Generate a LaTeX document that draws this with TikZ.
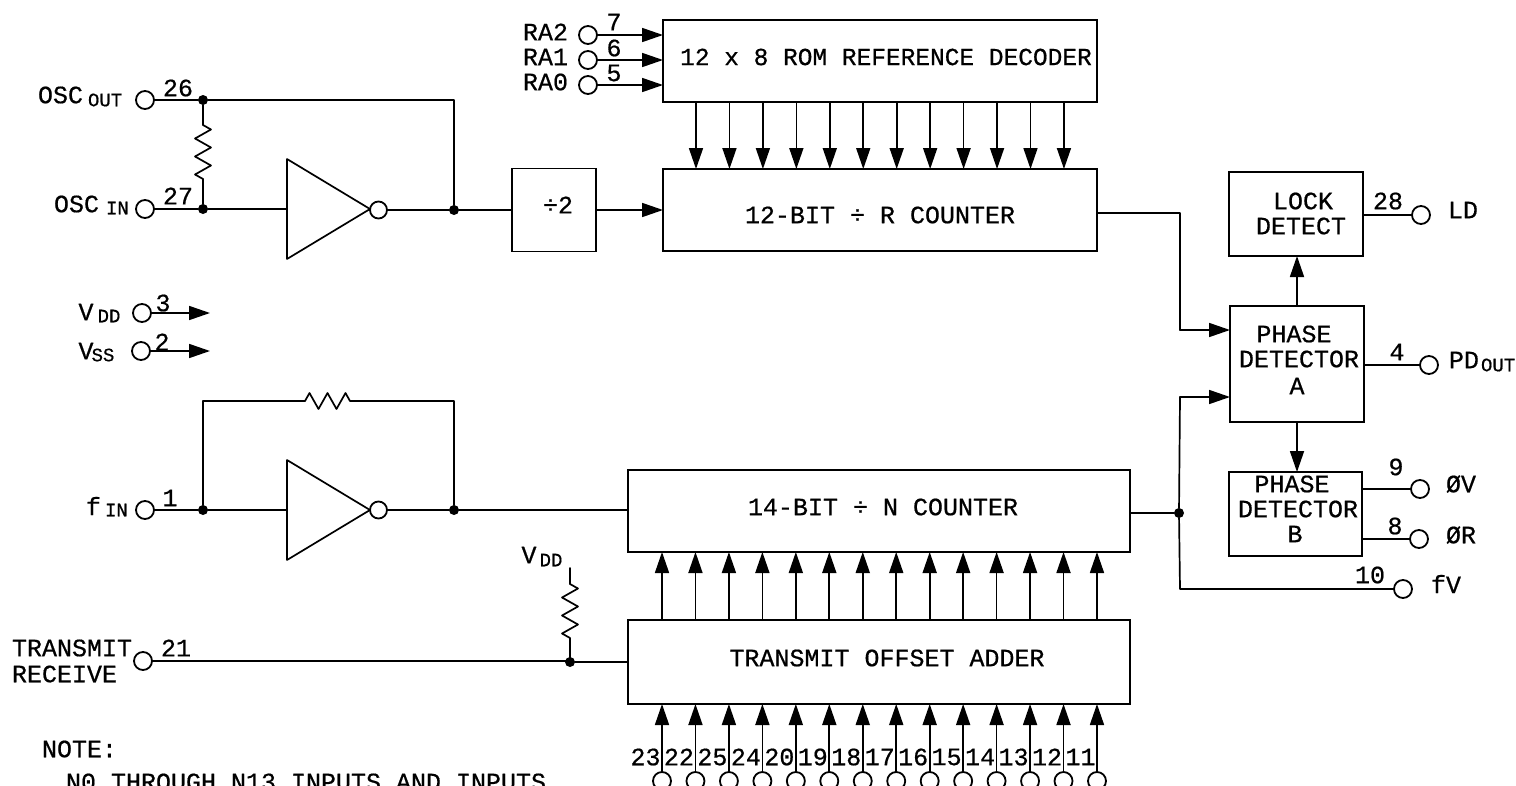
\documentclass[tikz,border=0pt]{standalone}
\usepackage{fontspec}
\setmainfont{Liberation Mono}[FakeBold=0.6]
\usetikzlibrary{arrows.meta,decorations.pathmorphing}
\tikzset{
  wire/.style={line width=1.7pt,line cap=round,line join=round},
  arr/.style={wire,-{Triangle[length=21pt,width=14pt]}},
  blk/.style={draw,line width=1.9pt,inner sep=0pt,outer sep=0pt},
  pin/.style={circle,draw,line width=1.8pt,minimum size=18pt,inner sep=0pt,outer sep=0pt},
  bub/.style={circle,draw,line width=1.8pt,minimum size=17pt,inner sep=0pt,outer sep=0pt},
  dotj/.style={circle,fill,minimum size=10pt,inner sep=0pt,outer sep=0pt},
  lab/.style={inner sep=0pt,outer sep=0pt,font=\fontsize{25}{26}\selectfont},
  sml/.style={inner sep=0pt,outer sep=0pt,font=\fontsize{19}{20}\selectfont},
  res/.style={wire,decorate,decoration={zigzag,segment length=18pt,amplitude=8pt}}
}
\begin{document}
\begin{tikzpicture}[x=1pt,y=-1pt]
\useasboundingbox (0,0) rectangle (1516,785);
\clip (0,0) rectangle (1516,785);
% blocks
\node[blk,minimum width=434pt,minimum height=82pt] (rom) at (880,61) {};
\node[lab,font=\fontsize{24.5}{26}\selectfont] (romt) at (886,57) {12 x 8 ROM REFERENCE DECODER};
\node[blk,minimum width=434pt,minimum height=82pt] (rcnt) at (880,210) {};
\node[lab] (rcntt) at (880,215) {12-BIT ÷ R COUNTER};
\node[blk,minimum width=84pt,minimum height=83pt] (div) at (554,210) {};
\node[lab] (divt) at (558,205) {÷2};
\node[blk,minimum width=502pt,minimum height=82pt] (ncnt) at (879,511) {};
\node[lab] (ncntt) at (883,507) {14-BIT ÷ N COUNTER};
\node[blk,minimum width=502pt,minimum height=84pt] (add) at (879,662) {};
\node[lab] (addt) at (887,658) {TRANSMIT OFFSET ADDER};
\node[blk,minimum width=134pt,minimum height=84pt] (lock) at (1296,214) {};
\node[lab] (lockt1) at (1303,201) {LOCK};
\node[lab] (lockt2) at (1301,226) {DETECT};
\node[blk,minimum width=134pt,minimum height=116pt] (pda) at (1297,364) {};
\node[lab] (pdat1) at (1294,334) {PHASE};
\node[lab] (pdat2) at (1299,359) {DETECTOR};
\node[lab] (pdat3) at (1297,386) {A};
\node[blk,minimum width=133pt,minimum height=84pt] (pdb) at (1295.5,514) {};
\node[lab] (pdbt1) at (1292,484) {PHASE};
\node[lab] (pdbt2) at (1298,509) {DETECTOR};
\node[lab] (pdbt3) at (1295,534) {B};
% oscillator section
\node[pin] (oscout) at (145,100) {};
\node[pin] (oscin) at (145,209) {};
\node[dotj] (j26) at (203,100) {};
\node[dotj] (j27) at (203,209) {};
\node[dotj] (j1o) at (454,210) {};
\coordinate (c1) at (454,100);
\coordinate (r1a) at (203,125);
\coordinate (r1b) at (203,179);
\coordinate (ia) at (287,209);
\coordinate (ib) at (370,209);
\node[bub] (bub1) at (378.5,210) {};
\draw[wire] (287,159) -- (287,259) -- (ib) -- cycle;
\draw[wire] (oscout) -- (j26) -- (c1) -- (j1o);
\draw[wire] (j26) -- (r1a);
\draw[res] (r1a) -- (r1b);
\draw[wire] (r1b) -- (j27);
\draw[wire] (oscin) -- (j27) -- (ia);
\draw[wire] (bub1) -- (j1o) -- (div.west |- j1o);
\draw[arr] (div.east) -- (rcnt.west);
\node[lab] (n26) at (178,88) {26};
\node[lab] (n27) at (178,196) {27};
\node[lab,anchor=east] (tosc1) at (83,95) {OSC};
\node[sml,anchor=west] (tosc2) at (88,100) {OUT};
\node[lab,anchor=east] (tosc3) at (99,204) {OSC};
\node[sml,anchor=west] (tosc4) at (106,208) {IN};
% RA pins
\node[pin] (ra2) at (588,35) {};
\node[pin] (ra1) at (588,60) {};
\node[pin] (ra0) at (588,85) {};
\foreach \p in {ra2,ra1,ra0} \draw[arr] (\p) -- (\p -| rom.west);
\node[lab,anchor=east] (tra2) at (568,32) {RA2};
\node[lab,anchor=east] (tra1) at (568,57) {RA1};
\node[lab,anchor=east] (tra0) at (568,82) {RA0};
\node[lab] (n7) at (614,22) {7};
\node[lab] (n6) at (614,48) {6};
\node[lab] (n5) at (614,73) {5};
% decoder to counter
\foreach \i in {0,...,11}{
  \coordinate (d\i) at ({696+33.45*\i},102);
  \draw[arr] (d\i) -- (d\i |- rcnt.north);
}
% supplies
\node[pin] (vdd) at (142,313) {};
\node[pin] (vss) at (141,351) {};
\coordinate (vddE) at (210,313);
\coordinate (vssE) at (210,351);
\draw[arr] (vdd) -- (vddE);
\draw[arr] (vss) -- (vssE);
\node[lab] (n3) at (163,303) {3};
\node[lab] (n2) at (162,342) {2};
\node[lab] (tv1) at (86,312) {V};
\node[sml] (tv2) at (109,316) {DD};
\node[lab] (tv3) at (86,351) {V};
\node[sml] (tv4) at (103,355) {SS};
% fin section
\node[pin] (fin) at (145,510) {};
\node[dotj] (j1) at (203,510) {};
\node[dotj] (j2o) at (454,510) {};
\coordinate (ja) at (287,510);
\coordinate (jb) at (370,510);
\node[bub] (bub2) at (378.5,510) {};
\draw[wire] (287,460) -- (287,560) -- (jb) -- cycle;
\coordinate (f1) at (203,401);
\coordinate (f2) at (305,401);
\coordinate (f3) at (358,401);
\coordinate (f4) at (454,401);
\draw[wire] (j1) -- (f1) -- (f2);
\draw[res] (f2) -- (f3);
\draw[wire] (f3) -- (f4) -- (j2o);
\draw[wire] (fin) -- (j1) -- (ja);
\draw[wire] (bub2) -- (j2o) -- (j2o -| ncnt.west);
\node[lab] (n1) at (170,498) {1};
\node[lab,anchor=east] (tf1) at (101,506) {f};
\node[sml,anchor=west] (tf2) at (105,510) {IN};
% transmit
\node[pin] (tx) at (143,661) {};
\node[dotj] (j21) at (570,662) {};
\coordinate (vt) at (570,568);
\coordinate (r3a) at (570,584);
\coordinate (r3b) at (570,644);
\draw[wire] (vt) -- (r3a);
\draw[res] (r3a) -- (r3b);
\draw[wire] (r3b) -- (j21);
\draw[wire] (tx) -- (tx -| j21) -- (j21) -- (j21 -| add.west);
\node[lab] (n21) at (176,648) {21};
\node[lab,anchor=west] (ttx1) at (12,648) {TRANSMIT};
\node[lab,anchor=west] (ttx2) at (12,674) {RECEIVE};
\node[lab] (tv5) at (529,555) {V};
\node[sml] (tv6) at (551,560) {DD};
% bus lines
\foreach \i/\n in {0/23,1/22,2/25,3/24,4/20,5/19,6/18,7/17,8/16,9/15,10/14,11/13,12/12,13/11}{
  \node[pin] (b\i) at ({662+33.46*\i},781) {};
  \draw[arr] (b\i) -- (b\i |- add.south);
  \coordinate (a\i) at ({662+33.46*\i},620);
  \draw[arr] (a\i) -- (a\i |- ncnt.south);
  \node[lab] (nb\i) at ({645.5+33.46*\i},757) {\n};
}
% phase detector wiring
\node[dotj] (jn) at (1179,513) {};
\coordinate (p1) at (1180,213);
\coordinate (p2) at (1180,330);
\coordinate (p3) at (1180,397);
\coordinate (p4) at (1180,589);
\draw[wire] (rcnt.east |- p1) -- (p1) -- (p2);
\draw[arr] (p2) -- (p2 -| pda.west);
\draw[wire] (ncnt.east |- jn) -- (jn);
\draw[wire] (jn) -- (p3);
\draw[arr] (p3) -- (p3 -| pda.west);
\node[pin] (fv) at (1403,589) {};
\draw[wire] (jn) -- (p4) -- (fv);
\draw[arr] (pda.north) -- (pda.north |- lock.south);
\draw[arr] (pda.south) -- (pda.south |- pdb.north);
\node[pin] (ld) at (1421,215) {};
\node[pin] (pdo) at (1429,365) {};
\node[pin] (pv) at (1420,489) {};
\node[pin] (pr) at (1419,539) {};
\draw[wire] (ld) -- (ld -| lock.east);
\draw[wire] (pdo) -- (pdo -| pda.east);
\draw[wire] (pv) -- (pv -| pdb.east);
\draw[wire] (pr) -- (pr -| pdb.east);
\node[lab] (n28) at (1388,201) {28};
\node[lab] (n4) at (1397,352) {4};
\node[lab] (n9) at (1396,467) {9};
\node[lab] (n8) at (1395,526) {8};
\node[lab] (n10) at (1370,575) {10};
\node[lab] (tld) at (1463,210) {LD};
\node[lab] (tpd1) at (1464,360) {PD};
\node[sml,anchor=west] (tpd2) at (1481,365) {OUT};
\node[lab] (tpv) at (1461,484) {ØV};
\node[lab] (tpr) at (1461,535) {ØR};
\node[lab] (tfv) at (1446,584) {fV};
% note
\node[lab,anchor=west] (note1) at (42,749) {NOTE:};
\node[lab,anchor=west] (note2) at (66,782) {N0 THROUGH N13 INPUTS AND INPUTS};
\end{tikzpicture}
\end{document}
